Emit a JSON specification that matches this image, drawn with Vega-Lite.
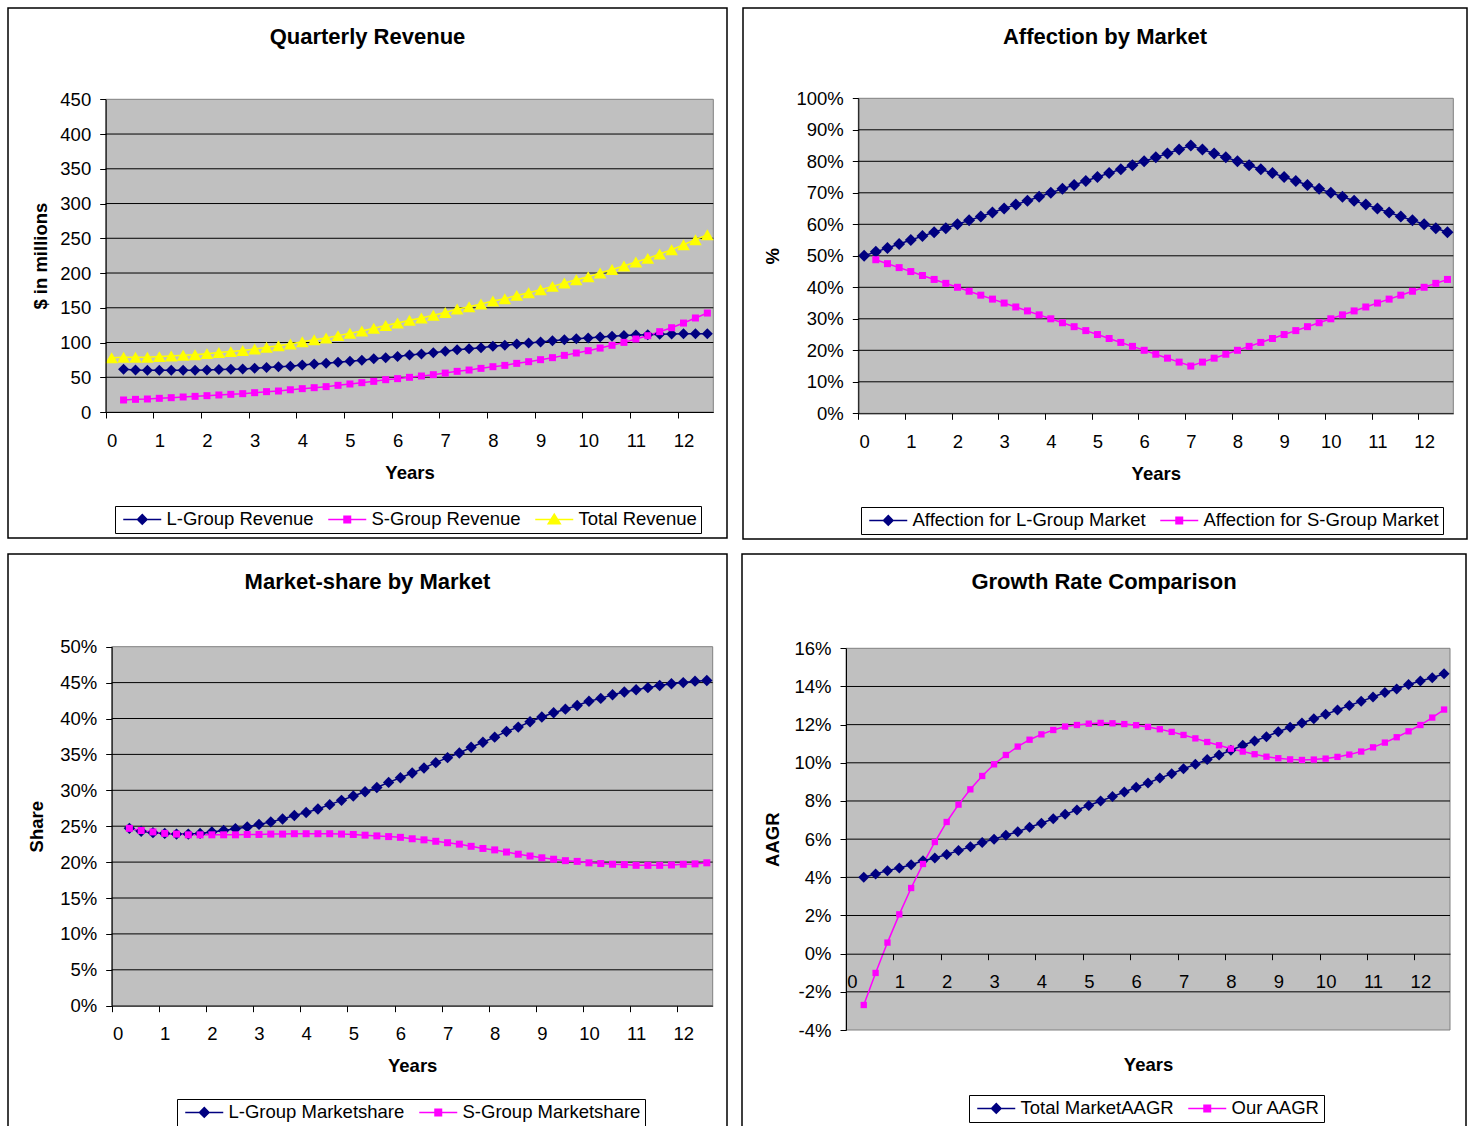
{
  "$schema": "https://vega.github.io/schema/vega-lite/v6.json",
  "padding": {"left": 7, "top": 7, "right": 0, "bottom": 0},
  "background": "#ffffff",
  "spacing": 13,
  "resolve": {
    "scale": {"fill": "independent", "stroke": "independent", "shape": "independent", "x": "independent", "y": "independent"},
    "legend": {"fill": "independent", "stroke": "independent", "shape": "independent"}
  },
  "vconcat": [
    {
      "spacing": 14,
      "resolve": {
        "scale": {"fill": "independent", "stroke": "independent", "shape": "independent", "x": "independent", "y": "independent"},
        "legend": {"fill": "independent", "stroke": "independent", "shape": "independent"}
      },
      "hconcat": [
        {
          "width": 719,
          "height": 530,
          "view": {"stroke": "#000000", "strokeWidth": 1.5, "fill": "#ffffff"},
          "title": {"text": "Quarterly Revenue", "offset": -41},
          "data": {"values": [
            {"yr": 0, "Total Revenue": 78.2},
            {"yr": 0.25, "L-Group Revenue": 61.4, "S-Group Revenue": 17.3, "Total Revenue": 78.7},
            {"yr": 0.5, "L-Group Revenue": 60.5, "S-Group Revenue": 18.2, "Total Revenue": 78.7},
            {"yr": 0.75, "L-Group Revenue": 60.0, "S-Group Revenue": 18.7, "Total Revenue": 78.7},
            {"yr": 1, "L-Group Revenue": 60.0, "S-Group Revenue": 19.7, "Total Revenue": 79.7},
            {"yr": 1.25, "L-Group Revenue": 60.0, "S-Group Revenue": 20.6, "Total Revenue": 80.6},
            {"yr": 1.5, "L-Group Revenue": 60.0, "S-Group Revenue": 21.6, "Total Revenue": 81.6},
            {"yr": 1.75, "L-Group Revenue": 60.0, "S-Group Revenue": 22.5, "Total Revenue": 82.5},
            {"yr": 2, "L-Group Revenue": 60.5, "S-Group Revenue": 23.5, "Total Revenue": 84.0},
            {"yr": 2.25, "L-Group Revenue": 61.0, "S-Group Revenue": 24.5, "Total Revenue": 85.5},
            {"yr": 2.5, "L-Group Revenue": 61.5, "S-Group Revenue": 25.4, "Total Revenue": 86.9},
            {"yr": 2.75, "L-Group Revenue": 62.0, "S-Group Revenue": 26.4, "Total Revenue": 88.4},
            {"yr": 3, "L-Group Revenue": 63.0, "S-Group Revenue": 27.8, "Total Revenue": 90.8},
            {"yr": 3.25, "L-Group Revenue": 64.0, "S-Group Revenue": 29.3, "Total Revenue": 93.3},
            {"yr": 3.5, "L-Group Revenue": 65.0, "S-Group Revenue": 30.2, "Total Revenue": 95.2},
            {"yr": 3.75, "L-Group Revenue": 66.0, "S-Group Revenue": 32.0, "Total Revenue": 98.0},
            {"yr": 4, "L-Group Revenue": 67.5, "S-Group Revenue": 33.6, "Total Revenue": 101.1},
            {"yr": 4.25, "L-Group Revenue": 69.0, "S-Group Revenue": 35.0, "Total Revenue": 104.0},
            {"yr": 4.5, "L-Group Revenue": 70.0, "S-Group Revenue": 36.5, "Total Revenue": 106.5},
            {"yr": 4.75, "L-Group Revenue": 71.5, "S-Group Revenue": 38.4, "Total Revenue": 109.9},
            {"yr": 5, "L-Group Revenue": 73.0, "S-Group Revenue": 40.3, "Total Revenue": 113.3},
            {"yr": 5.25, "L-Group Revenue": 74.5, "S-Group Revenue": 42.2, "Total Revenue": 116.7},
            {"yr": 5.5, "L-Group Revenue": 76.5, "S-Group Revenue": 44.1, "Total Revenue": 120.6},
            {"yr": 5.75, "L-Group Revenue": 78.0, "S-Group Revenue": 46.5, "Total Revenue": 124.5},
            {"yr": 6, "L-Group Revenue": 80.0, "S-Group Revenue": 48.0, "Total Revenue": 128.0},
            {"yr": 6.25, "L-Group Revenue": 82.0, "S-Group Revenue": 49.9, "Total Revenue": 131.9},
            {"yr": 6.5, "L-Group Revenue": 83.5, "S-Group Revenue": 51.8, "Total Revenue": 135.3},
            {"yr": 6.75, "L-Group Revenue": 85.4, "S-Group Revenue": 53.7, "Total Revenue": 139.1},
            {"yr": 7, "L-Group Revenue": 87.3, "S-Group Revenue": 56.0, "Total Revenue": 143.3},
            {"yr": 7.25, "L-Group Revenue": 89.7, "S-Group Revenue": 58.5, "Total Revenue": 148.2},
            {"yr": 7.5, "L-Group Revenue": 91.0, "S-Group Revenue": 60.4, "Total Revenue": 151.4},
            {"yr": 7.75, "L-Group Revenue": 92.6, "S-Group Revenue": 62.8, "Total Revenue": 155.4},
            {"yr": 8, "L-Group Revenue": 94.5, "S-Group Revenue": 65.2, "Total Revenue": 159.7},
            {"yr": 8.25, "L-Group Revenue": 96.0, "S-Group Revenue": 67.1, "Total Revenue": 163.1},
            {"yr": 8.5, "L-Group Revenue": 97.8, "S-Group Revenue": 70.0, "Total Revenue": 167.8},
            {"yr": 8.75, "L-Group Revenue": 99.3, "S-Group Revenue": 72.4, "Total Revenue": 171.7},
            {"yr": 9, "L-Group Revenue": 100.7, "S-Group Revenue": 75.3, "Total Revenue": 176.0},
            {"yr": 9.25, "L-Group Revenue": 102.6, "S-Group Revenue": 78.2, "Total Revenue": 180.8},
            {"yr": 9.5, "L-Group Revenue": 104.0, "S-Group Revenue": 81.5, "Total Revenue": 185.5},
            {"yr": 9.75, "L-Group Revenue": 105.5, "S-Group Revenue": 84.9, "Total Revenue": 190.4},
            {"yr": 10, "L-Group Revenue": 106.5, "S-Group Revenue": 88.2, "Total Revenue": 194.7},
            {"yr": 10.25, "L-Group Revenue": 108.0, "S-Group Revenue": 92.0, "Total Revenue": 200.0},
            {"yr": 10.5, "L-Group Revenue": 109.0, "S-Group Revenue": 96.0, "Total Revenue": 205.0},
            {"yr": 10.75, "L-Group Revenue": 110.0, "S-Group Revenue": 100.2, "Total Revenue": 210.2},
            {"yr": 11, "L-Group Revenue": 110.8, "S-Group Revenue": 105.0, "Total Revenue": 215.8},
            {"yr": 11.25, "L-Group Revenue": 111.3, "S-Group Revenue": 109.8, "Total Revenue": 221.1},
            {"yr": 11.5, "L-Group Revenue": 111.8, "S-Group Revenue": 115.6, "Total Revenue": 227.4},
            {"yr": 11.75, "L-Group Revenue": 112.2, "S-Group Revenue": 121.3, "Total Revenue": 233.5},
            {"yr": 12, "L-Group Revenue": 112.7, "S-Group Revenue": 128.0, "Total Revenue": 240.7},
            {"yr": 12.25, "L-Group Revenue": 112.7, "S-Group Revenue": 135.3, "Total Revenue": 248.0},
            {"yr": 12.5, "L-Group Revenue": 112.7, "S-Group Revenue": 142.4, "Total Revenue": 255.1}
          ]},
          "layer": [
            {
              "data": {"values": [{}]},
              "mark": {"type": "rect", "fill": "#c0c0c0", "stroke": "#808080", "strokeWidth": 1},
              "encoding": {
                "x": {"datum": -0.125, "type": "quantitative"}, "x2": {"datum": 12.625},
                "y": {"datum": 0, "type": "quantitative"}, "y2": {"datum": 450}
              }
            },
            {
              "data": {"values": [{"v": 50}, {"v": 100}, {"v": 150}, {"v": 200}, {"v": 250}, {"v": 300}, {"v": 350}, {"v": 400}]},
              "mark": {"type": "rule", "color": "#000000", "strokeWidth": 1},
              "encoding": {
                "x": {"datum": -0.125, "type": "quantitative"}, "x2": {"datum": 12.625},
                "y": {"field": "v", "type": "quantitative"}
              }
            },
            {
              "mark": {"type": "line", "strokeWidth": 1.5, "color": "#000080"},
              "encoding": {
                "x": {
                  "field": "yr", "type": "quantitative",
                  "scale": {"domain": [-0.125, 12.625], "nice": false, "zero": false, "rangeMin": 97.7, "rangeMax": 705.3},
                  "axis": {
                    "orient": "bottom", "offset": -126, "title": "Years", "titleY": 66, "zindex": 1,
                    "values": [-0.125, 0.125, 0.375, 0.625, 0.875, 1.125, 1.375, 1.625, 1.875, 2.125, 2.375, 2.625, 2.875, 3.125, 3.375, 3.625, 3.875, 4.125, 4.375, 4.625, 4.875, 5.125, 5.375, 5.625, 5.875, 6.125, 6.375, 6.625, 6.875, 7.125, 7.375, 7.625, 7.875, 8.125, 8.375, 8.625, 8.875, 9.125, 9.375, 9.625, 9.875, 10.125, 10.375, 10.625, 10.875, 11.125, 11.375, 11.625, 11.875, 12.125, 12.375, 12.625],
                    "labelExpr": "(datum.value + 0.125) % 1 === 0 ? '' + (datum.value + 0.125) : ''",
                    "labelOffset": 5.96
                  }
                },
                "y": {
                  "field": "L-Group Revenue", "type": "quantitative",
                  "scale": {"domain": [0, 450], "nice": false, "zero": false, "rangeMin": 404, "rangeMax": 91.3},
                  "axis": {
                    "orient": "left", "offset": -97.7, "title": "$ in millions", "titleX": -59, "zindex": 1,
                    "values": [0, 50, 100, 150, 200, 250, 300, 350, 400, 450]
                  }
                }
              }
            },
            {
              "mark": {"type": "line", "strokeWidth": 1.5, "color": "#ff00ff"},
              "encoding": {"x": {"field": "yr", "type": "quantitative"}, "y": {"field": "S-Group Revenue", "type": "quantitative"}}
            },
            {
              "mark": {"type": "line", "strokeWidth": 1.5, "color": "#ffff00"},
              "encoding": {"x": {"field": "yr", "type": "quantitative"}, "y": {"field": "Total Revenue", "type": "quantitative"}}
            },
            {
              "mark": {"type": "point", "shape": "diamond", "size": 121, "filled": true, "color": "#000080", "opacity": 1},
              "encoding": {"x": {"field": "yr", "type": "quantitative"}, "y": {"field": "L-Group Revenue", "type": "quantitative"}}
            },
            {
              "mark": {"type": "point", "shape": "square", "size": 49, "filled": true, "color": "#ff00ff", "opacity": 1},
              "encoding": {"x": {"field": "yr", "type": "quantitative"}, "y": {"field": "S-Group Revenue", "type": "quantitative"}}
            },
            {
              "mark": {"type": "point", "shape": "triangle-up", "size": 160, "filled": true, "color": "#ffff00", "opacity": 1},
              "encoding": {"x": {"field": "yr", "type": "quantitative"}, "y": {"field": "Total Revenue", "type": "quantitative"}}
            },
            {
              "data": {"values": []},
              "mark": {"type": "point", "filled": true, "size": 100},
              "encoding": {
                "x": {"field": "yr", "type": "quantitative"},
                "y": {"field": "value", "type": "quantitative"},
                "fill": {"field": "series", "type": "nominal", "scale": {"domain": ["L-Group Revenue", "S-Group Revenue", "Total Revenue"], "range": ["#000080", "#ff00ff", "#ffff00"]}, "legend": {"title": null, "legendX": 107, "legendY": 498, "columns": 3}},
                "stroke": {"field": "series", "type": "nominal", "scale": {"domain": ["L-Group Revenue", "S-Group Revenue", "Total Revenue"], "range": ["#000080", "#ff00ff", "#ffff00"]}, "legend": {"title": null, "legendX": 107, "legendY": 498, "columns": 3}},
                "shape": {"field": "series", "type": "nominal", "scale": {"domain": ["L-Group Revenue", "S-Group Revenue", "Total Revenue"], "range": ["M-1,0H6.6M2.8,-0.95L3.75,0L2.8,0.95L1.85,0Z", "M-1,0H6.6M2.15,-0.65H3.45V0.65H2.15Z", "M-1,0H6.6M2.8,-1.05L4,0.85L1.6,0.85Z"]}, "legend": {"title": null, "legendX": 107, "legendY": 498, "columns": 3}}
              }
            }
          ]
        },
        {
          "width": 724,
          "height": 531,
          "view": {"stroke": "#000000", "strokeWidth": 1.5, "fill": "#ffffff"},
          "title": {"text": "Affection by Market", "offset": -40.7},
          "data": {"values": [
            {"yr": 0, "Affection for L-Group Market": 50},
            {"yr": 0.25, "Affection for L-Group Market": 51.25, "Affection for S-Group Market": 48.75},
            {"yr": 0.5, "Affection for L-Group Market": 52.5, "Affection for S-Group Market": 47.5},
            {"yr": 0.75, "Affection for L-Group Market": 53.75, "Affection for S-Group Market": 46.25},
            {"yr": 1, "Affection for L-Group Market": 55, "Affection for S-Group Market": 45},
            {"yr": 1.25, "Affection for L-Group Market": 56.25, "Affection for S-Group Market": 43.75},
            {"yr": 1.5, "Affection for L-Group Market": 57.5, "Affection for S-Group Market": 42.5},
            {"yr": 1.75, "Affection for L-Group Market": 58.75, "Affection for S-Group Market": 41.25},
            {"yr": 2, "Affection for L-Group Market": 60, "Affection for S-Group Market": 40},
            {"yr": 2.25, "Affection for L-Group Market": 61.25, "Affection for S-Group Market": 38.75},
            {"yr": 2.5, "Affection for L-Group Market": 62.5, "Affection for S-Group Market": 37.5},
            {"yr": 2.75, "Affection for L-Group Market": 63.75, "Affection for S-Group Market": 36.25},
            {"yr": 3, "Affection for L-Group Market": 65, "Affection for S-Group Market": 35},
            {"yr": 3.25, "Affection for L-Group Market": 66.25, "Affection for S-Group Market": 33.75},
            {"yr": 3.5, "Affection for L-Group Market": 67.5, "Affection for S-Group Market": 32.5},
            {"yr": 3.75, "Affection for L-Group Market": 68.75, "Affection for S-Group Market": 31.25},
            {"yr": 4, "Affection for L-Group Market": 70, "Affection for S-Group Market": 30},
            {"yr": 4.25, "Affection for L-Group Market": 71.25, "Affection for S-Group Market": 28.75},
            {"yr": 4.5, "Affection for L-Group Market": 72.5, "Affection for S-Group Market": 27.5},
            {"yr": 4.75, "Affection for L-Group Market": 73.75, "Affection for S-Group Market": 26.25},
            {"yr": 5, "Affection for L-Group Market": 75, "Affection for S-Group Market": 25},
            {"yr": 5.25, "Affection for L-Group Market": 76.25, "Affection for S-Group Market": 23.75},
            {"yr": 5.5, "Affection for L-Group Market": 77.5, "Affection for S-Group Market": 22.5},
            {"yr": 5.75, "Affection for L-Group Market": 78.75, "Affection for S-Group Market": 21.25},
            {"yr": 6, "Affection for L-Group Market": 80, "Affection for S-Group Market": 20},
            {"yr": 6.25, "Affection for L-Group Market": 81.25, "Affection for S-Group Market": 18.75},
            {"yr": 6.5, "Affection for L-Group Market": 82.5, "Affection for S-Group Market": 17.5},
            {"yr": 6.75, "Affection for L-Group Market": 83.75, "Affection for S-Group Market": 16.25},
            {"yr": 7, "Affection for L-Group Market": 85, "Affection for S-Group Market": 15},
            {"yr": 7.25, "Affection for L-Group Market": 83.75, "Affection for S-Group Market": 16.25},
            {"yr": 7.5, "Affection for L-Group Market": 82.5, "Affection for S-Group Market": 17.5},
            {"yr": 7.75, "Affection for L-Group Market": 81.25, "Affection for S-Group Market": 18.75},
            {"yr": 8, "Affection for L-Group Market": 80, "Affection for S-Group Market": 20},
            {"yr": 8.25, "Affection for L-Group Market": 78.75, "Affection for S-Group Market": 21.25},
            {"yr": 8.5, "Affection for L-Group Market": 77.5, "Affection for S-Group Market": 22.5},
            {"yr": 8.75, "Affection for L-Group Market": 76.25, "Affection for S-Group Market": 23.75},
            {"yr": 9, "Affection for L-Group Market": 75, "Affection for S-Group Market": 25},
            {"yr": 9.25, "Affection for L-Group Market": 73.75, "Affection for S-Group Market": 26.25},
            {"yr": 9.5, "Affection for L-Group Market": 72.5, "Affection for S-Group Market": 27.5},
            {"yr": 9.75, "Affection for L-Group Market": 71.25, "Affection for S-Group Market": 28.75},
            {"yr": 10, "Affection for L-Group Market": 70, "Affection for S-Group Market": 30},
            {"yr": 10.25, "Affection for L-Group Market": 68.75, "Affection for S-Group Market": 31.25},
            {"yr": 10.5, "Affection for L-Group Market": 67.5, "Affection for S-Group Market": 32.5},
            {"yr": 10.75, "Affection for L-Group Market": 66.25, "Affection for S-Group Market": 33.75},
            {"yr": 11, "Affection for L-Group Market": 65, "Affection for S-Group Market": 35},
            {"yr": 11.25, "Affection for L-Group Market": 63.75, "Affection for S-Group Market": 36.25},
            {"yr": 11.5, "Affection for L-Group Market": 62.5, "Affection for S-Group Market": 37.5},
            {"yr": 11.75, "Affection for L-Group Market": 61.25, "Affection for S-Group Market": 38.75},
            {"yr": 12, "Affection for L-Group Market": 60, "Affection for S-Group Market": 40},
            {"yr": 12.25, "Affection for L-Group Market": 58.75, "Affection for S-Group Market": 41.25},
            {"yr": 12.5, "Affection for L-Group Market": 57.5, "Affection for S-Group Market": 42.5}
          ]},
          "layer": [
            {
              "data": {"values": [{}]},
              "mark": {"type": "rect", "fill": "#c0c0c0", "stroke": "#808080", "strokeWidth": 1},
              "encoding": {
                "x": {"datum": -0.125, "type": "quantitative"}, "x2": {"datum": 12.625},
                "y": {"datum": 0, "type": "quantitative"}, "y2": {"datum": 100}
              }
            },
            {
              "data": {"values": [{"v": 10}, {"v": 20}, {"v": 30}, {"v": 40}, {"v": 50}, {"v": 60}, {"v": 70}, {"v": 80}, {"v": 90}]},
              "mark": {"type": "rule", "color": "#000000", "strokeWidth": 1},
              "encoding": {
                "x": {"datum": -0.125, "type": "quantitative"}, "x2": {"datum": 12.625},
                "y": {"field": "v", "type": "quantitative"}
              }
            },
            {
              "mark": {"type": "line", "strokeWidth": 1.5, "color": "#000080"},
              "encoding": {
                "x": {
                  "field": "yr", "type": "quantitative",
                  "scale": {"domain": [-0.125, 12.625], "nice": false, "zero": false, "rangeMin": 115.3, "rangeMax": 710.3},
                  "axis": {
                    "orient": "bottom", "offset": -125.7, "title": "Years", "titleY": 66.3, "zindex": 1,
                    "values": [-0.125, 0.125, 0.375, 0.625, 0.875, 1.125, 1.375, 1.625, 1.875, 2.125, 2.375, 2.625, 2.875, 3.125, 3.375, 3.625, 3.875, 4.125, 4.375, 4.625, 4.875, 5.125, 5.375, 5.625, 5.875, 6.125, 6.375, 6.625, 6.875, 7.125, 7.375, 7.625, 7.875, 8.125, 8.375, 8.625, 8.875, 9.125, 9.375, 9.625, 9.875, 10.125, 10.375, 10.625, 10.875, 11.125, 11.375, 11.625, 11.875, 12.125, 12.375, 12.625],
                    "labelExpr": "(datum.value + 0.125) % 1 === 0 ? '' + (datum.value + 0.125) : ''",
                    "labelOffset": 5.83
                  }
                },
                "y": {
                  "field": "Affection for L-Group Market", "type": "quantitative",
                  "scale": {"domain": [0, 100], "nice": false, "zero": false, "rangeMin": 405.3, "rangeMax": 90.3},
                  "axis": {
                    "orient": "left", "offset": -115.3, "title": "%", "titleX": -79.6, "zindex": 1,
                    "values": [0, 10, 20, 30, 40, 50, 60, 70, 80, 90, 100],
                    "labelExpr": "datum.value + '%'"
                  }
                }
              }
            },
            {
              "mark": {"type": "line", "strokeWidth": 1.5, "color": "#ff00ff"},
              "encoding": {"x": {"field": "yr", "type": "quantitative"}, "y": {"field": "Affection for S-Group Market", "type": "quantitative"}}
            },
            {
              "mark": {"type": "point", "shape": "diamond", "size": 144, "filled": true, "color": "#000080", "opacity": 1},
              "encoding": {"x": {"field": "yr", "type": "quantitative"}, "y": {"field": "Affection for L-Group Market", "type": "quantitative"}}
            },
            {
              "mark": {"type": "point", "shape": "square", "size": 49, "filled": true, "color": "#ff00ff", "opacity": 1},
              "encoding": {"x": {"field": "yr", "type": "quantitative"}, "y": {"field": "Affection for S-Group Market", "type": "quantitative"}}
            },
            {
              "data": {"values": []},
              "mark": {"type": "point", "filled": true, "size": 100},
              "encoding": {
                "x": {"field": "yr", "type": "quantitative"},
                "y": {"field": "value", "type": "quantitative"},
                "fill": {"field": "series", "type": "nominal", "scale": {"domain": ["Affection for L-Group Market", "Affection for S-Group Market"], "range": ["#000080", "#ff00ff"]}, "legend": {"title": null, "legendX": 118, "legendY": 499, "columns": 2}},
                "stroke": {"field": "series", "type": "nominal", "scale": {"domain": ["Affection for L-Group Market", "Affection for S-Group Market"], "range": ["#000080", "#ff00ff"]}, "legend": {"title": null, "legendX": 118, "legendY": 499, "columns": 2}},
                "shape": {"field": "series", "type": "nominal", "scale": {"domain": ["Affection for L-Group Market", "Affection for S-Group Market"], "range": ["M-1,0H6.6M2.8,-0.95L3.75,0L2.8,0.95L1.85,0Z", "M-1,0H6.6M2.15,-0.65H3.45V0.65H2.15Z"]}, "legend": {"title": null, "legendX": 118, "legendY": 499, "columns": 2}}
              }
            }
          ]
        }
      ]
    },
    {
      "spacing": 13,
      "resolve": {
        "scale": {"fill": "independent", "stroke": "independent", "shape": "independent", "x": "independent", "y": "independent"},
        "legend": {"fill": "independent", "stroke": "independent", "shape": "independent"}
      },
      "hconcat": [
        {
          "width": 719,
          "height": 575,
          "view": {"stroke": "#000000", "strokeWidth": 1.5, "fill": "#ffffff"},
          "title": {"text": "Market-share by Market", "offset": -40},
          "data": {"values": [
            {"yr": 0.25, "L-Group Marketshare": 24.7, "S-Group Marketshare": 24.7},
            {"yr": 0.5, "L-Group Marketshare": 24.3, "S-Group Marketshare": 24.4},
            {"yr": 0.75, "L-Group Marketshare": 24.1, "S-Group Marketshare": 24.2},
            {"yr": 1, "L-Group Marketshare": 24.0, "S-Group Marketshare": 24.0},
            {"yr": 1.25, "L-Group Marketshare": 23.9, "S-Group Marketshare": 23.9},
            {"yr": 1.5, "L-Group Marketshare": 23.9, "S-Group Marketshare": 23.8},
            {"yr": 1.75, "L-Group Marketshare": 24.0, "S-Group Marketshare": 23.8},
            {"yr": 2, "L-Group Marketshare": 24.2, "S-Group Marketshare": 23.8},
            {"yr": 2.25, "L-Group Marketshare": 24.4, "S-Group Marketshare": 23.8},
            {"yr": 2.5, "L-Group Marketshare": 24.65, "S-Group Marketshare": 23.8},
            {"yr": 2.75, "L-Group Marketshare": 24.9, "S-Group Marketshare": 23.85},
            {"yr": 3, "L-Group Marketshare": 25.25, "S-Group Marketshare": 23.85},
            {"yr": 3.25, "L-Group Marketshare": 25.6, "S-Group Marketshare": 23.9},
            {"yr": 3.5, "L-Group Marketshare": 26.0, "S-Group Marketshare": 23.9},
            {"yr": 3.75, "L-Group Marketshare": 26.5, "S-Group Marketshare": 23.95},
            {"yr": 4, "L-Group Marketshare": 26.9, "S-Group Marketshare": 23.95},
            {"yr": 4.25, "L-Group Marketshare": 27.4, "S-Group Marketshare": 23.95},
            {"yr": 4.5, "L-Group Marketshare": 28.0, "S-Group Marketshare": 23.95},
            {"yr": 4.75, "L-Group Marketshare": 28.6, "S-Group Marketshare": 23.9},
            {"yr": 5, "L-Group Marketshare": 29.2, "S-Group Marketshare": 23.85},
            {"yr": 5.25, "L-Group Marketshare": 29.8, "S-Group Marketshare": 23.75},
            {"yr": 5.5, "L-Group Marketshare": 30.4, "S-Group Marketshare": 23.65},
            {"yr": 5.75, "L-Group Marketshare": 31.1, "S-Group Marketshare": 23.55},
            {"yr": 6, "L-Group Marketshare": 31.75, "S-Group Marketshare": 23.45},
            {"yr": 6.25, "L-Group Marketshare": 32.4, "S-Group Marketshare": 23.25},
            {"yr": 6.5, "L-Group Marketshare": 33.1, "S-Group Marketshare": 23.1},
            {"yr": 6.75, "L-Group Marketshare": 33.85, "S-Group Marketshare": 22.9},
            {"yr": 7, "L-Group Marketshare": 34.55, "S-Group Marketshare": 22.7},
            {"yr": 7.25, "L-Group Marketshare": 35.2, "S-Group Marketshare": 22.5},
            {"yr": 7.5, "L-Group Marketshare": 36.0, "S-Group Marketshare": 22.2},
            {"yr": 7.75, "L-Group Marketshare": 36.7, "S-Group Marketshare": 21.9},
            {"yr": 8, "L-Group Marketshare": 37.4, "S-Group Marketshare": 21.7},
            {"yr": 8.25, "L-Group Marketshare": 38.2, "S-Group Marketshare": 21.4},
            {"yr": 8.5, "L-Group Marketshare": 38.8, "S-Group Marketshare": 21.1},
            {"yr": 8.75, "L-Group Marketshare": 39.55, "S-Group Marketshare": 20.85},
            {"yr": 9, "L-Group Marketshare": 40.2, "S-Group Marketshare": 20.6},
            {"yr": 9.25, "L-Group Marketshare": 40.8, "S-Group Marketshare": 20.4},
            {"yr": 9.5, "L-Group Marketshare": 41.3, "S-Group Marketshare": 20.2},
            {"yr": 9.75, "L-Group Marketshare": 41.8, "S-Group Marketshare": 20.1},
            {"yr": 10, "L-Group Marketshare": 42.4, "S-Group Marketshare": 19.9},
            {"yr": 10.25, "L-Group Marketshare": 42.8, "S-Group Marketshare": 19.8},
            {"yr": 10.5, "L-Group Marketshare": 43.3, "S-Group Marketshare": 19.7},
            {"yr": 10.75, "L-Group Marketshare": 43.7, "S-Group Marketshare": 19.65},
            {"yr": 11, "L-Group Marketshare": 44.0, "S-Group Marketshare": 19.55},
            {"yr": 11.25, "L-Group Marketshare": 44.3, "S-Group Marketshare": 19.55},
            {"yr": 11.5, "L-Group Marketshare": 44.6, "S-Group Marketshare": 19.55},
            {"yr": 11.75, "L-Group Marketshare": 44.85, "S-Group Marketshare": 19.6},
            {"yr": 12, "L-Group Marketshare": 45.0, "S-Group Marketshare": 19.7},
            {"yr": 12.25, "L-Group Marketshare": 45.2, "S-Group Marketshare": 19.75},
            {"yr": 12.5, "L-Group Marketshare": 45.3, "S-Group Marketshare": 19.9}
          ]},
          "layer": [
            {
              "data": {"values": [{}]},
              "mark": {"type": "rect", "fill": "#c0c0c0", "stroke": "#808080", "strokeWidth": 1},
              "encoding": {
                "x": {"datum": -0.125, "type": "quantitative"}, "x2": {"datum": 12.625},
                "y": {"datum": 0, "type": "quantitative"}, "y2": {"datum": 50}
              }
            },
            {
              "data": {"values": [{"v": 5}, {"v": 10}, {"v": 15}, {"v": 20}, {"v": 25}, {"v": 30}, {"v": 35}, {"v": 40}, {"v": 45}]},
              "mark": {"type": "rule", "color": "#000000", "strokeWidth": 1},
              "encoding": {
                "x": {"datum": -0.125, "type": "quantitative"}, "x2": {"datum": 12.625},
                "y": {"field": "v", "type": "quantitative"}
              }
            },
            {
              "mark": {"type": "line", "strokeWidth": 1.5, "color": "#000080"},
              "encoding": {
                "x": {
                  "field": "yr", "type": "quantitative",
                  "scale": {"domain": [-0.125, 12.625], "nice": false, "zero": false, "rangeMin": 103.7, "rangeMax": 704.7},
                  "axis": {
                    "orient": "bottom", "offset": -123.3, "title": "Years", "titleY": 65.3, "zindex": 1,
                    "values": [-0.125, 0.125, 0.375, 0.625, 0.875, 1.125, 1.375, 1.625, 1.875, 2.125, 2.375, 2.625, 2.875, 3.125, 3.375, 3.625, 3.875, 4.125, 4.375, 4.625, 4.875, 5.125, 5.375, 5.625, 5.875, 6.125, 6.375, 6.625, 6.875, 7.125, 7.375, 7.625, 7.875, 8.125, 8.375, 8.625, 8.875, 9.125, 9.375, 9.625, 9.875, 10.125, 10.375, 10.625, 10.875, 11.125, 11.375, 11.625, 11.875, 12.125, 12.375, 12.625],
                    "labelExpr": "(datum.value + 0.125) % 1 === 0 ? '' + (datum.value + 0.125) : ''",
                    "labelOffset": 5.89
                  }
                },
                "y": {
                  "field": "L-Group Marketshare", "type": "quantitative",
                  "scale": {"domain": [0, 50], "nice": false, "zero": false, "rangeMin": 451.7, "rangeMax": 92.7},
                  "axis": {
                    "orient": "left", "offset": -103.7, "title": "Share", "titleX": -69.7, "zindex": 1,
                    "values": [0, 5, 10, 15, 20, 25, 30, 35, 40, 45, 50],
                    "labelExpr": "datum.value + '%'"
                  }
                }
              }
            },
            {
              "mark": {"type": "line", "strokeWidth": 1.5, "color": "#ff00ff"},
              "encoding": {"x": {"field": "yr", "type": "quantitative"}, "y": {"field": "S-Group Marketshare", "type": "quantitative"}}
            },
            {
              "mark": {"type": "point", "shape": "diamond", "size": 130, "filled": true, "color": "#000080", "opacity": 1},
              "encoding": {"x": {"field": "yr", "type": "quantitative"}, "y": {"field": "L-Group Marketshare", "type": "quantitative"}}
            },
            {
              "mark": {"type": "point", "shape": "square", "size": 49, "filled": true, "color": "#ff00ff", "opacity": 1},
              "encoding": {"x": {"field": "yr", "type": "quantitative"}, "y": {"field": "S-Group Marketshare", "type": "quantitative"}}
            },
            {
              "data": {"values": []},
              "mark": {"type": "point", "filled": true, "size": 100},
              "encoding": {
                "x": {"field": "yr", "type": "quantitative"},
                "y": {"field": "value", "type": "quantitative"},
                "fill": {"field": "series", "type": "nominal", "scale": {"domain": ["L-Group Marketshare", "S-Group Marketshare"], "range": ["#000080", "#ff00ff"]}, "legend": {"title": null, "legendX": 169, "legendY": 545, "columns": 2}},
                "stroke": {"field": "series", "type": "nominal", "scale": {"domain": ["L-Group Marketshare", "S-Group Marketshare"], "range": ["#000080", "#ff00ff"]}, "legend": {"title": null, "legendX": 169, "legendY": 545, "columns": 2}},
                "shape": {"field": "series", "type": "nominal", "scale": {"domain": ["L-Group Marketshare", "S-Group Marketshare"], "range": ["M-1,0H6.6M2.8,-0.95L3.75,0L2.8,0.95L1.85,0Z", "M-1,0H6.6M2.15,-0.65H3.45V0.65H2.15Z"]}, "legend": {"title": null, "legendX": 169, "legendY": 545, "columns": 2}}
              }
            }
          ]
        },
        {
          "width": 724,
          "height": 575,
          "view": {"stroke": "#000000", "strokeWidth": 1.5, "fill": "#ffffff"},
          "title": {"text": "Growth Rate Comparison", "offset": -40},
          "data": {"values": [
            {"yr": 0.25, "Total MarketAAGR": 4.0, "Our AAGR": -2.69},
            {"yr": 0.5, "Total MarketAAGR": 4.17, "Our AAGR": -1.01},
            {"yr": 0.75, "Total MarketAAGR": 4.35, "Our AAGR": 0.58},
            {"yr": 1, "Total MarketAAGR": 4.49, "Our AAGR": 2.06},
            {"yr": 1.25, "Total MarketAAGR": 4.66, "Our AAGR": 3.44},
            {"yr": 1.5, "Total MarketAAGR": 4.87, "Our AAGR": 4.7},
            {"yr": 1.75, "Total MarketAAGR": 5.01, "Our AAGR": 5.85},
            {"yr": 2, "Total MarketAAGR": 5.2, "Our AAGR": 6.9},
            {"yr": 2.25, "Total MarketAAGR": 5.4, "Our AAGR": 7.81},
            {"yr": 2.5, "Total MarketAAGR": 5.6, "Our AAGR": 8.61},
            {"yr": 2.75, "Total MarketAAGR": 5.82, "Our AAGR": 9.31},
            {"yr": 3, "Total MarketAAGR": 6.0, "Our AAGR": 9.92},
            {"yr": 3.25, "Total MarketAAGR": 6.2, "Our AAGR": 10.41},
            {"yr": 3.5, "Total MarketAAGR": 6.39, "Our AAGR": 10.85},
            {"yr": 3.75, "Total MarketAAGR": 6.62, "Our AAGR": 11.21},
            {"yr": 4, "Total MarketAAGR": 6.83, "Our AAGR": 11.49},
            {"yr": 4.25, "Total MarketAAGR": 7.07, "Our AAGR": 11.72},
            {"yr": 4.5, "Total MarketAAGR": 7.3, "Our AAGR": 11.9},
            {"yr": 4.75, "Total MarketAAGR": 7.53, "Our AAGR": 11.98},
            {"yr": 5, "Total MarketAAGR": 7.76, "Our AAGR": 12.05},
            {"yr": 5.25, "Total MarketAAGR": 8.0, "Our AAGR": 12.09},
            {"yr": 5.5, "Total MarketAAGR": 8.23, "Our AAGR": 12.07},
            {"yr": 5.75, "Total MarketAAGR": 8.47, "Our AAGR": 12.03},
            {"yr": 6, "Total MarketAAGR": 8.72, "Our AAGR": 11.97},
            {"yr": 6.25, "Total MarketAAGR": 8.94, "Our AAGR": 11.88},
            {"yr": 6.5, "Total MarketAAGR": 9.2, "Our AAGR": 11.76},
            {"yr": 6.75, "Total MarketAAGR": 9.43, "Our AAGR": 11.62},
            {"yr": 7, "Total MarketAAGR": 9.69, "Our AAGR": 11.46},
            {"yr": 7.25, "Total MarketAAGR": 9.92, "Our AAGR": 11.28},
            {"yr": 7.5, "Total MarketAAGR": 10.17, "Our AAGR": 11.09},
            {"yr": 7.75, "Total MarketAAGR": 10.41, "Our AAGR": 10.92},
            {"yr": 8, "Total MarketAAGR": 10.66, "Our AAGR": 10.74},
            {"yr": 8.25, "Total MarketAAGR": 10.92, "Our AAGR": 10.59},
            {"yr": 8.5, "Total MarketAAGR": 11.14, "Our AAGR": 10.45},
            {"yr": 8.75, "Total MarketAAGR": 11.37, "Our AAGR": 10.32},
            {"yr": 9, "Total MarketAAGR": 11.63, "Our AAGR": 10.24},
            {"yr": 9.25, "Total MarketAAGR": 11.86, "Our AAGR": 10.18},
            {"yr": 9.5, "Total MarketAAGR": 12.09, "Our AAGR": 10.15},
            {"yr": 9.75, "Total MarketAAGR": 12.31, "Our AAGR": 10.17},
            {"yr": 10, "Total MarketAAGR": 12.54, "Our AAGR": 10.22},
            {"yr": 10.25, "Total MarketAAGR": 12.77, "Our AAGR": 10.31},
            {"yr": 10.5, "Total MarketAAGR": 13.0, "Our AAGR": 10.43},
            {"yr": 10.75, "Total MarketAAGR": 13.22, "Our AAGR": 10.59},
            {"yr": 11, "Total MarketAAGR": 13.45, "Our AAGR": 10.81},
            {"yr": 11.25, "Total MarketAAGR": 13.68, "Our AAGR": 11.06},
            {"yr": 11.5, "Total MarketAAGR": 13.87, "Our AAGR": 11.34},
            {"yr": 11.75, "Total MarketAAGR": 14.1, "Our AAGR": 11.65},
            {"yr": 12, "Total MarketAAGR": 14.29, "Our AAGR": 11.98},
            {"yr": 12.25, "Total MarketAAGR": 14.46, "Our AAGR": 12.37},
            {"yr": 12.5, "Total MarketAAGR": 14.67, "Our AAGR": 12.79}
          ]},
          "layer": [
            {
              "data": {"values": [{}]},
              "mark": {"type": "rect", "fill": "#c0c0c0", "stroke": "#808080", "strokeWidth": 1},
              "encoding": {
                "x": {"datum": -0.125, "type": "quantitative"}, "x2": {"datum": 12.625},
                "y": {"datum": -4, "type": "quantitative"}, "y2": {"datum": 16}
              }
            },
            {
              "data": {"values": [{"v": -2}, {"v": 2}, {"v": 4}, {"v": 6}, {"v": 8}, {"v": 10}, {"v": 12}, {"v": 14}]},
              "mark": {"type": "rule", "color": "#000000", "strokeWidth": 1},
              "encoding": {
                "x": {"datum": -0.125, "type": "quantitative"}, "x2": {"datum": 12.625},
                "y": {"field": "v", "type": "quantitative"}
              }
            },
            {
              "mark": {"type": "line", "strokeWidth": 1.5, "color": "#000080"},
              "encoding": {
                "x": {
                  "field": "yr", "type": "quantitative",
                  "scale": {"domain": [-0.125, 12.625], "nice": false, "zero": false, "rangeMin": 104, "rangeMax": 708},
                  "axis": {
                    "orient": "bottom", "offset": -175.3, "title": "Years", "titleY": 116.3, "zindex": 1,
                    "values": [-0.125, 0.125, 0.375, 0.625, 0.875, 1.125, 1.375, 1.625, 1.875, 2.125, 2.375, 2.625, 2.875, 3.125, 3.375, 3.625, 3.875, 4.125, 4.375, 4.625, 4.875, 5.125, 5.375, 5.625, 5.875, 6.125, 6.375, 6.625, 6.875, 7.125, 7.375, 7.625, 7.875, 8.125, 8.375, 8.625, 8.875, 9.125, 9.375, 9.625, 9.875, 10.125, 10.375, 10.625, 10.875, 11.125, 11.375, 11.625, 11.875, 12.125, 12.375, 12.625],
                    "labelExpr": "(datum.value + 0.125) % 1 === 0 ? '' + (datum.value + 0.125) : ''",
                    "labelOffset": 5.92
                  }
                },
                "y": {
                  "field": "Total MarketAAGR", "type": "quantitative",
                  "scale": {"domain": [-4, 16], "nice": false, "zero": false, "rangeMin": 476, "rangeMax": 94.3},
                  "axis": {
                    "orient": "left", "offset": -104, "title": "AAGR", "titleX": -68, "zindex": 1,
                    "values": [-4, -2, 0, 2, 4, 6, 8, 10, 12, 14, 16],
                    "labelExpr": "datum.value + '%'"
                  }
                }
              }
            },
            {
              "mark": {"type": "line", "strokeWidth": 1.5, "color": "#ff00ff"},
              "encoding": {"x": {"field": "yr", "type": "quantitative"}, "y": {"field": "Our AAGR", "type": "quantitative"}}
            },
            {
              "mark": {"type": "point", "shape": "diamond", "size": 121, "filled": true, "color": "#000080", "opacity": 1},
              "encoding": {"x": {"field": "yr", "type": "quantitative"}, "y": {"field": "Total MarketAAGR", "type": "quantitative"}}
            },
            {
              "mark": {"type": "point", "shape": "square", "size": 40, "filled": true, "color": "#ff00ff", "opacity": 1},
              "encoding": {"x": {"field": "yr", "type": "quantitative"}, "y": {"field": "Our AAGR", "type": "quantitative"}}
            },
            {
              "data": {"values": []},
              "mark": {"type": "point", "filled": true, "size": 100},
              "encoding": {
                "x": {"field": "yr", "type": "quantitative"},
                "y": {"field": "value", "type": "quantitative"},
                "fill": {"field": "series", "type": "nominal", "scale": {"domain": ["Total MarketAAGR", "Our AAGR"], "range": ["#000080", "#ff00ff"]}, "legend": {"title": null, "legendX": 227, "legendY": 541, "columns": 2}},
                "stroke": {"field": "series", "type": "nominal", "scale": {"domain": ["Total MarketAAGR", "Our AAGR"], "range": ["#000080", "#ff00ff"]}, "legend": {"title": null, "legendX": 227, "legendY": 541, "columns": 2}},
                "shape": {"field": "series", "type": "nominal", "scale": {"domain": ["Total MarketAAGR", "Our AAGR"], "range": ["M-1,0H6.6M2.8,-0.95L3.75,0L2.8,0.95L1.85,0Z", "M-1,0H6.6M2.15,-0.65H3.45V0.65H2.15Z"]}, "legend": {"title": null, "legendX": 227, "legendY": 541, "columns": 2}}
              }
            }
          ]
        }
      ]
    }
  ],
  "config": {
    "font": "Liberation Sans",
    "axis": {
      "labelFont": "Liberation Sans", "labelFontSize": 18.5, "labelColor": "#000000",
      "titleFont": "Liberation Sans", "titleFontSize": 18.5, "titleFontWeight": "bold", "titleColor": "#000000",
      "domainColor": "#000000", "domainWidth": 1, "tickColor": "#000000", "tickWidth": 1, "tickSize": 6,
      "grid": false, "labelOverlap": false, "labelBound": false, "titleBaseline": "alphabetic"
    },
    "axisX": {"labelFlush": false, "labelPadding": 13},
    "axisY": {"labelPadding": 9},
    "legend": {
      "orient": "none", "direction": "horizontal",
      "labelFont": "Liberation Sans", "labelFontSize": 18.5, "labelColor": "#000000", "labelOffset": 29, "labelLimit": 500,
      "symbolSize": 100, "symbolStrokeWidth": 1.5, "symbolOpacity": 1,
      "padding": 4, "strokeColor": "#000000", "fillColor": "#ffffff", "columnPadding": 10, "rowPadding": 0
    },
    "title": {"font": "Liberation Sans", "fontSize": 22, "fontWeight": "bold", "color": "#000000", "anchor": "middle", "frame": "group", "baseline": "alphabetic"}
  }
}
